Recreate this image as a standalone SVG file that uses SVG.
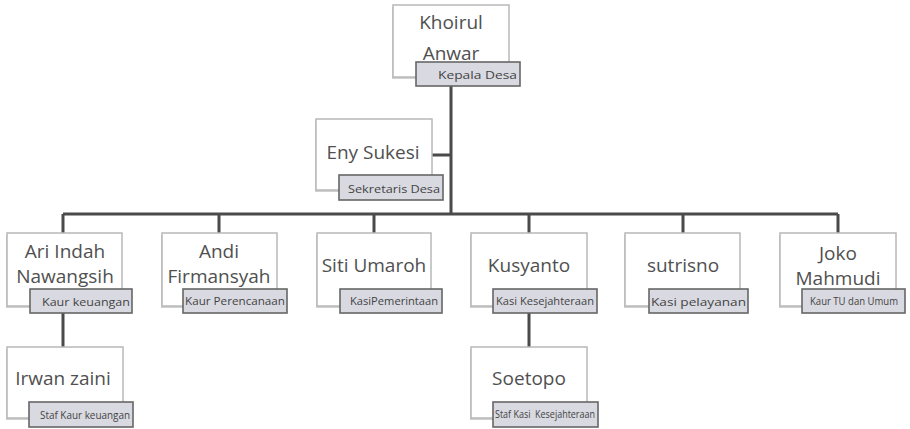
<svg xmlns="http://www.w3.org/2000/svg" width="910" height="429" viewBox="0 0 910 429">
<style>
.bx{fill:#fff;stroke:#b8b8b8;stroke-width:1.5}
.sh{fill:#d0d0d0}
.lb{fill:#d9d9e1;stroke:#666;stroke-width:1.6}
.nm{font-family:"Open Sans","Noto Sans",sans-serif;font-size:19px;fill:#505050;text-anchor:middle}
.lt{font-family:"Open Sans","Noto Sans",sans-serif;font-size:11px;fill:#444;text-anchor:start}
.cn{fill:none;stroke:#4a4a4a;stroke-width:3}
</style>
<rect width="910" height="429" fill="#fff"/>
<g id="connectors">
<path class="cn" d="M451 86V214M432 155H451M63 214H838M63 214V233M219 214V233M374 214V233M529 214V233M683 214V233M838 214V233M63 313V347M529 313V347"/>
</g>
<g id="khoirul">
<rect class="sh" x="392" y="7" width="116" height="72"/>
<rect class="bx" x="393" y="5" width="116" height="72"/>
<text class="nm" x="451" y="29">Khoirul</text>
<text class="nm" x="451" y="60">Anwar</text>
<rect class="lb" x="416" y="62" width="104" height="24"/>
<text class="lt" x="438" y="79" font-size="13" textLength="79" lengthAdjust="spacingAndGlyphs">Kepala Desa</text>
</g>
<g id="eny">
<rect class="sh" x="315" y="121" width="116" height="71"/>
<rect class="bx" x="316" y="119" width="116" height="71"/>
<text class="nm" x="373" y="159">Eny Sukesi</text>
<rect class="lb" x="339" y="175" width="104" height="25"/>
<text class="lt" x="348" y="193" font-size="12.5" textLength="92" lengthAdjust="spacingAndGlyphs">Sekretaris Desa</text>
</g>
<g id="ari">
<rect class="sh" x="6" y="235" width="116" height="73"/>
<rect class="bx" x="7" y="233" width="115" height="73"/>
<text class="nm" x="65" y="258">Ari Indah</text>
<text class="nm" x="65" y="283">Nawangsih</text>
<rect class="lb" x="30" y="289" width="102" height="24"/>
<text class="lt" x="42" y="306" font-size="12.5" textLength="88" lengthAdjust="spacingAndGlyphs">Kaur keuangan</text>
</g>
<g id="andi">
<rect class="sh" x="161" y="235" width="116" height="73"/>
<rect class="bx" x="162" y="233" width="115" height="73"/>
<text class="nm" x="219" y="258">Andi</text>
<text class="nm" x="219" y="283">Firmansyah</text>
<rect class="lb" x="183" y="289" width="104" height="24"/>
<text class="lt" x="185" y="305" font-size="11" textLength="100" lengthAdjust="spacingAndGlyphs">Kaur Perencanaan</text>
</g>
<g id="siti">
<rect class="sh" x="316" y="235" width="115" height="73"/>
<rect class="bx" x="317" y="233" width="114" height="73"/>
<text class="nm" x="374" y="272">Siti Umaroh</text>
<rect class="lb" x="340" y="289" width="102" height="24"/>
<text class="lt" x="350" y="305" font-size="11.5" textLength="88" lengthAdjust="spacingAndGlyphs">KasiPemerintaan</text>
</g>
<g id="kusyanto">
<rect class="sh" x="470" y="235" width="116" height="73"/>
<rect class="bx" x="471" y="233" width="116" height="73"/>
<text class="nm" x="529" y="272">Kusyanto</text>
<rect class="lb" x="493" y="289" width="104" height="24"/>
<text class="lt" x="496" y="305" font-size="11" textLength="98" lengthAdjust="spacingAndGlyphs">Kasi Kesejahteraan</text>
</g>
<g id="sutrisno">
<rect class="sh" x="624" y="235" width="116" height="73"/>
<rect class="bx" x="625" y="233" width="115" height="73"/>
<text class="nm" x="683" y="272">sutrisno</text>
<rect class="lb" x="649" y="289" width="99" height="24"/>
<text class="lt" x="651" y="306" font-size="13.5" textLength="95" lengthAdjust="spacingAndGlyphs">Kasi pelayanan</text>
</g>
<g id="joko">
<rect class="sh" x="779" y="235" width="117" height="73"/>
<rect class="bx" x="780" y="233" width="116" height="73"/>
<text class="nm" x="838" y="260">Joko</text>
<text class="nm" x="838" y="285">Mahmudi</text>
<rect class="lb" x="802" y="289" width="103" height="24"/>
<text class="lt" x="810" y="305" font-size="9.5" textLength="88" lengthAdjust="spacingAndGlyphs">Kaur TU dan Umum</text>
</g>
<g id="irwan">
<rect class="sh" x="6" y="349" width="117" height="71"/>
<rect class="bx" x="7" y="347" width="116" height="71"/>
<text class="nm" x="63" y="385">Irwan zaini</text>
<rect class="lb" x="29" y="402" width="104" height="25"/>
<text class="lt" x="40" y="419" font-size="11" textLength="90" lengthAdjust="spacingAndGlyphs">Staf Kaur keuangan</text>
</g>
<g id="soetopo">
<rect class="sh" x="470" y="349" width="117" height="71"/>
<rect class="bx" x="471" y="347" width="116" height="71"/>
<text class="nm" x="529" y="385">Soetopo</text>
<rect class="lb" x="493" y="402" width="105" height="25"/>
<text class="lt" x="495" y="418" font-size="10" textLength="100" lengthAdjust="spacingAndGlyphs" xml:space="preserve">Staf Kasi  Kesejahteraan</text>
</g>
</svg>
